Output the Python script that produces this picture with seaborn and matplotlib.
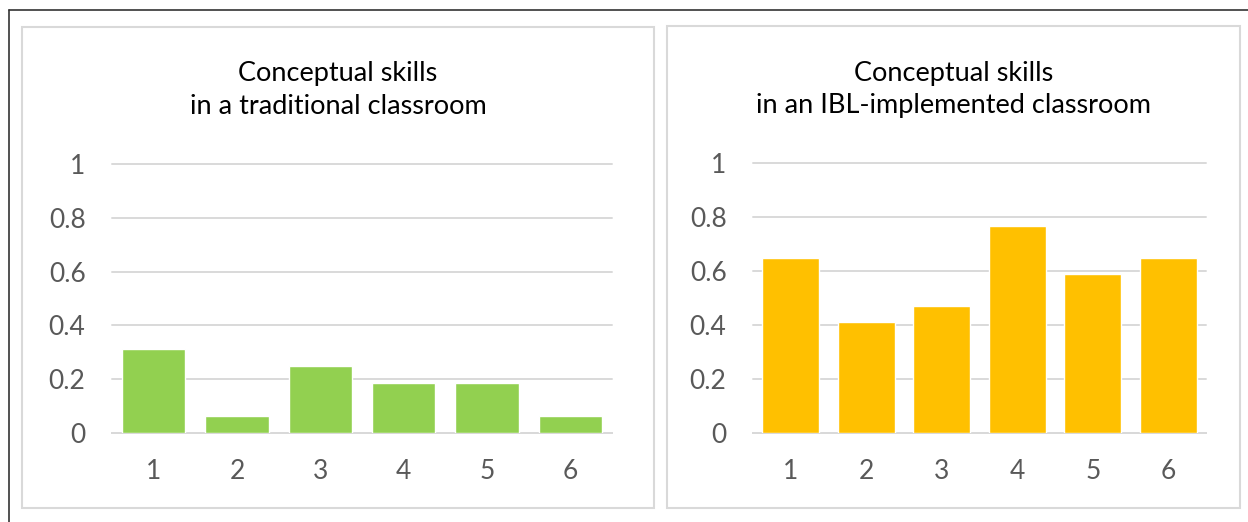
import matplotlib
matplotlib.use("Agg")
import matplotlib.pyplot as plt
import seaborn as sns
import pandas as pd
from matplotlib.patches import Rectangle
from matplotlib.lines import Line2D

# data
items = ["1", "2", "3", "4", "5", "6"]
traditional = [0.3125, 0.0625, 0.25, 0.1875, 0.1875, 0.0625]
ibl = [0.647, 0.412, 0.471, 0.765, 0.588, 0.647]
y_ticks = [0, 0.2, 0.4, 0.6, 0.8, 1]
y_labels = ["0", "0.2", "0.4", "0.6", "0.8", "1"]

titles = ["Conceptual skills\nin a traditional classroom",
          "Conceptual skills\nin an IBL-implemented classroom"]
colors = ["#92D050", "#FFC000"]

sns.set_theme(style="white")
plt.rcParams['font.family'] = ['Lato', 'DejaVu Sans']

W, H = 1248, 522
fig = plt.figure(figsize=(W / 100, H / 100), dpi=100)

def fx(px):
    return px / W

def fy(py):
    return 1 - py / H

# outer frame lines (top and left only)
fig.add_artist(Line2D([fx(9), fx(W)], [fy(10), fy(10)], color="#333333", lw=1.2))
fig.add_artist(Line2D([fx(9), fx(9)], [fy(10), 0], color="#333333", lw=1.2))

# panel boxes: (left, top, right, bottom) in px
panels = [(22, 27, 654, 508), (667, 26, 1240, 508)]
axes_px = [(112, 164, 612, 433), (753, 163, 1206, 433)]

for i, values in enumerate([traditional, ibl]):
    l, t, r, b = panels[i]
    fig.add_artist(Rectangle((fx(l), fy(b)), fx(r - l), (b - t) / H,
                             fill=False, edgecolor="#D9D9D9", lw=1.5))
    fig.text(fx((l + r) / 2), fy(90), titles[i], ha="center", va="center",
             fontsize=19.5, color="#000000", linespacing=1.35)

    al, at, ar, ab = axes_px[i]
    ax = fig.add_axes([fx(al), fy(ab), fx(ar - al), (ab - at) / H])
    df = pd.DataFrame({"item": items, "value": values})
    sns.barplot(data=df, x="item", y="value", color=colors[i], width=0.76,
                saturation=1, ax=ax, zorder=3)
    ax.set_ylim(0, 1)
    ax.set_xlim(-0.5, 5.5)
    ax.set_yticks(y_ticks)
    ax.set_yticklabels(y_labels)
    ax.yaxis.grid(True, color="#D9D9D9", lw=1.4, zorder=0)
    ax.set_axisbelow(True)
    for side in ["top", "right", "left"]:
        ax.spines[side].set_visible(False)
    ax.spines["bottom"].set_color("#D9D9D9")
    ax.spines["bottom"].set_linewidth(1.4)
    ax.tick_params(axis="both", length=0, labelsize=19, colors="#595959")
    ax.tick_params(axis="y", pad=19)
    ax.tick_params(axis="x", pad=19)
    ax.set_xlabel("")
    ax.set_ylabel("")
    for gl in ax.get_ygridlines():
        gl.set_clip_on(False)

fig.savefig("out.png", dpi=100)
